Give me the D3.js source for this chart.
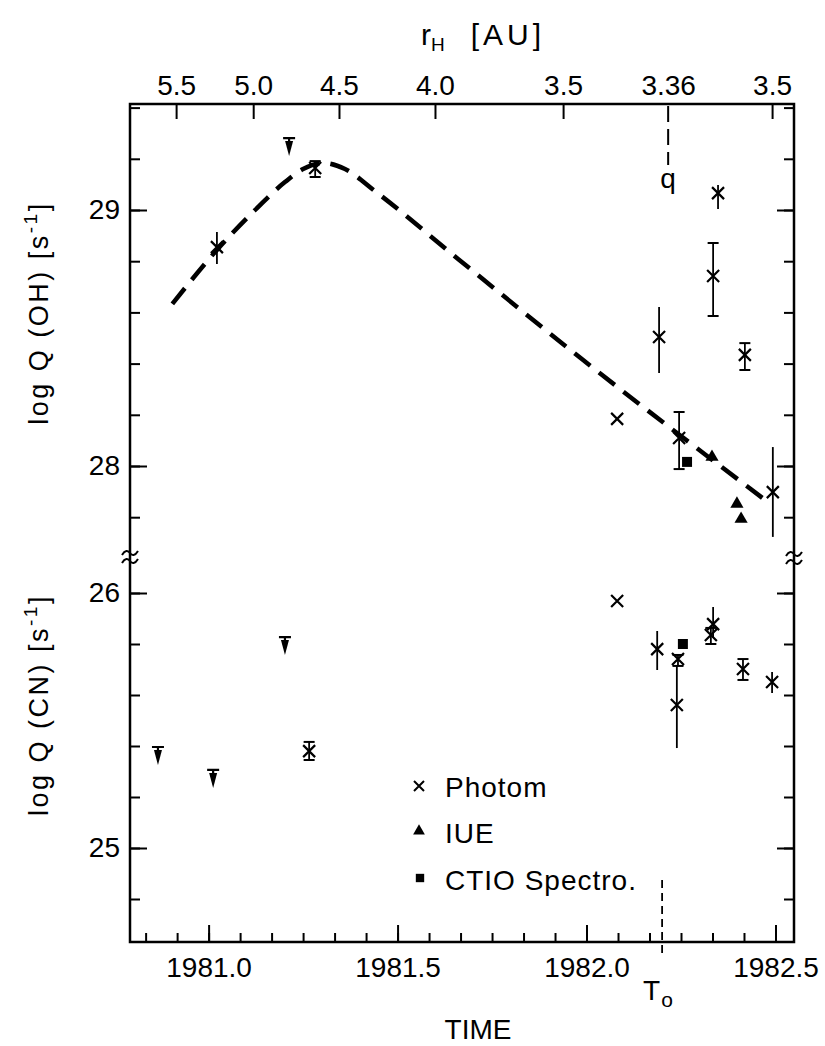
<!DOCTYPE html>
<html>
<head>
<meta charset="utf-8">
<script src="https://cdn.jsdelivr.net/npm/d3@7"></script>
<style>
  body { margin: 0; background: #fff; }
  text { font-family: "Liberation Sans", Arial, sans-serif; fill: #000; }
  .axis path.domain { display: none; }
  .axis line { stroke: #000; stroke-width: 2; }
</style>
</head>
<body>
<script>

// ---- dados ----
// eixo inferior (tempo, anos)
var yearMajor = [1981.0, 1981.5, 1982.0, 1982.5];
// eixo superior: distancia heliocentrica r_H (posicao em tempo + rotulo)
var rhTimes  = [1980.914, 1981.118, 1981.345, 1981.599, 1981.938, 1982.216, 1982.491];
var rhLabels = ["5.5", "5.0", "4.5", "4.0", "3.5", "3.36", "3.5"];
var ohTicks = [27.8, 28.0, 28.2, 28.4, 28.6, 28.8, 29.0, 29.2, 29.4];
var ohMajor = [28, 29];
var cnTicks = [24.8, 25.0, 25.2, 25.4, 25.6, 25.8, 26.0];
var cnMajor = [25, 26];

var perihelionTime = 1982.216;   // q
var t0Time = 1982.2;             // T0

// log Q (OH) - fotometria (t, v, barra inferior/superior, tipo de barra)
var ohPhotom = [
  {t: 1981.022, v: 28.855, lo: 28.789, hi: 28.914, bar: "plain"},
  {t: 1981.282, v: 29.164, lo: 29.129, hi: 29.191, bar: "cap"},
  {t: 1982.348, v: 29.066, lo: 29.004, hi: 29.098, bar: "plain"},
  {t: 1982.335, v: 28.742, lo: 28.586, hi: 28.871, bar: "cap"},
  {t: 1982.192, v: 28.504, lo: 28.363, hi: 28.621, bar: "plain"},
  {t: 1982.419, v: 28.434, lo: 28.375, hi: 28.480, bar: "cap"},
  {t: 1982.081, v: 28.184, lo: null,   hi: null,   bar: "none"},
  {t: 1982.245, v: 28.109, lo: 27.988, hi: 28.211, bar: "cap"},
  {t: 1982.493, v: 27.898, lo: 27.723, hi: 28.074, bar: "plain"}
];
var ohLimits = [{t: 1981.213, v: 29.281}];
var ohIUE = [
  {t: 1982.332, v: 28.035},
  {t: 1982.398, v: 27.852},
  {t: 1982.409, v: 27.793}
];
var ohCTIO = [{t: 1982.266, v: 28.016}];
// curva do modelo (tracejada)
var ohModelT = [1980.904, 1981.022, 1981.123, 1981.202, 1981.250, 1981.303, 1981.361, 1981.440, 1981.660, 1981.991, 1982.480];
var ohModelV = [28.633, 28.844, 29.000, 29.109, 29.160, 29.184, 29.160, 29.074, 28.809, 28.414, 27.859];

// log Q (CN)
var cnLimits = [
  {t: 1980.866, v: 25.396},
  {t: 1981.012, v: 25.306},
  {t: 1981.202, v: 25.827}
];
var cnPhotom = [
  {t: 1981.266, v: 25.380, lo: 25.345, hi: 25.416, bar: "cap"},
  {t: 1982.081, v: 25.969, lo: null,   hi: null,   bar: "none"},
  {t: 1982.187, v: 25.780, lo: 25.698, hi: 25.851, bar: "plain"},
  {t: 1982.242, v: 25.741, lo: 25.714, hi: 25.757, bar: "cap"},
  {t: 1982.239, v: 25.561, lo: 25.392, hi: 25.714, bar: "plain"},
  {t: 1982.335, v: 25.878, lo: 25.824, hi: 25.945, bar: "plain"},
  {t: 1982.329, v: 25.835, lo: 25.800, hi: 25.863, bar: "cap"},
  {t: 1982.414, v: 25.702, lo: 25.659, hi: 25.741, bar: "cap"},
  {t: 1982.491, v: 25.651, lo: 25.608, hi: 25.690, bar: "plain"}
];
var cnCTIO = [{t: 1982.255, v: 25.800}];

var legendNames = ["Photom", "IUE", "CTIO Spectro."];

// ---- geometria ----
var W = 825, H = 1046;
var plotLeft = 130, plotRight = 794, plotTop = 104, breakY = 557, plotBottom = 942;

var x = d3.scaleLinear().domain([1980.792, 1982.549]).range([plotLeft, plotRight]);
var yOH = d3.scaleLinear().domain([28, 29]).range([466, 210]);
var yCN = d3.scaleLinear().domain([25, 26]).range([848, 593]);

var svg = d3.select("body").append("svg")
    .attr("width", W)
    .attr("height", H)
    .style("background", "#fff");

// moldura
svg.append("path")
    .attr("d", "M" + plotLeft + "," + plotTop + "H" + plotRight + "V" + plotBottom + "H" + plotLeft + "Z")
    .attr("fill", "none")
    .attr("stroke", "#000")
    .attr("stroke-width", 2.5);

// eixos verticais (esquerda com rotulos, direita so marcas)
function yAxes(scale, ticks, major) {
  svg.append("g").attr("class", "axis")
      .attr("transform", "translate(" + plotLeft + ",0)")
      .call(d3.axisRight(scale).tickValues(ticks).tickSize(10).tickFormat(""));
  var g = svg.append("g").attr("class", "axis")
      .attr("transform", "translate(" + plotLeft + ",0)")
      .call(d3.axisLeft(scale).tickValues(major).tickSizeInner(-17).tickSizeOuter(0)
              .tickPadding(10).tickFormat(d3.format("d")));
  g.selectAll("text").style("font-size", "28px");
  svg.append("g").attr("class", "axis")
      .attr("transform", "translate(" + plotRight + ",0)")
      .call(d3.axisLeft(scale).tickValues(ticks).tickSize(10).tickFormat(""));
  svg.append("g").attr("class", "axis")
      .attr("transform", "translate(" + plotRight + ",0)")
      .call(d3.axisLeft(scale).tickValues(major).tickSize(17).tickFormat(""));
}
yAxes(yOH, ohTicks, ohMajor);
yAxes(yCN, cnTicks, cnMajor);

// eixo do tempo (marcas mensais)
var months = d3.range(-2, 19).map(function(m) { return 1981 + m / 12; });
svg.append("g").attr("class", "axis")
    .attr("transform", "translate(0," + plotBottom + ")")
    .call(d3.axisTop(x).tickValues(months).tickSize(9).tickFormat(""));
svg.append("g").attr("class", "axis")
    .attr("transform", "translate(0," + plotBottom + ")")
    .call(d3.axisTop(x).tickValues(yearMajor).tickSize(17).tickFormat(""));
var bl = svg.append("g").attr("class", "axis")
    .attr("transform", "translate(0," + plotBottom + ")")
    .call(d3.axisBottom(x).tickValues(yearMajor).tickSize(0).tickPadding(15)
            .tickFormat(d3.format(".1f")));
bl.selectAll("text").style("font-size", "28px");

// eixo superior r_H
svg.append("g").attr("class", "axis")
    .attr("transform", "translate(0," + plotTop + ")")
    .call(d3.axisBottom(x).tickValues(rhTimes.filter(function(t) { return t !== perihelionTime; }))
            .tickSize(15).tickFormat(""));
var tl = svg.append("g").attr("class", "axis")
    .attr("transform", "translate(0," + plotTop + ")")
    .call(d3.axisTop(x).tickValues(rhTimes).tickSize(0).tickPadding(9)
            .tickFormat(function(d, i) { return rhLabels[i]; }));
tl.selectAll("text").style("font-size", "28px");

// titulo superior
var rt = svg.append("text").attr("x", 421).attr("y", 45).style("font-size", "30px");
rt.append("tspan").text("r");
rt.append("tspan").attr("dy", 6).style("font-size", "19px").text("H");
rt.append("tspan").attr("dy", -6).attr("dx", 26).style("letter-spacing", "4px").text("[AU]");

// titulo inferior
svg.append("text")
    .attr("x", 478).attr("y", 1039)
    .attr("text-anchor", "middle")
    .style("font-size", "28px")
    .text("TIME");

// titulos verticais
function yTitle(cy, mol) {
  var t = svg.append("text")
      .attr("transform", "translate(48," + cy + ") rotate(-90)")
      .attr("text-anchor", "middle")
      .style("font-size", "27px")
      .style("letter-spacing", "2.5px");
  t.append("tspan").text("log Q (" + mol + ") [s");
  t.append("tspan").attr("dy", -11).style("font-size", "19px").text("-1");
  t.append("tspan").attr("dy", 11).text("]");
}
yTitle(313, "OH");
yTitle(705, "CN");

// marcas de quebra do eixo
function breakMark(cx, cy) {
  svg.append("path")
      .attr("d", "M" + (cx - 8) + "," + (cy + 2) + "c3,-5 6,-5 8,-2 s5,3 8,-2")
      .attr("fill", "none").attr("stroke", "#000").attr("stroke-width", 2);
}
breakMark(plotLeft, breakY - 4);
breakMark(plotLeft, breakY + 4);
breakMark(plotRight, breakY - 3);
breakMark(plotRight, breakY + 5);

// linha tracejada q (perielio) e T0
svg.append("line")
    .attr("x1", x(perihelionTime)).attr("x2", x(perihelionTime))
    .attr("y1", plotTop + 2).attr("y2", 165)
    .attr("stroke", "#000").attr("stroke-width", 2)
    .attr("stroke-dasharray", "16,7");
svg.append("text")
    .attr("x", x(perihelionTime)).attr("y", 188)
    .attr("text-anchor", "middle")
    .style("font-size", "28px")
    .text("q");

svg.append("line")
    .attr("x1", x(t0Time)).attr("x2", x(t0Time))
    .attr("y1", 880).attr("y2", 956)
    .attr("stroke", "#000").attr("stroke-width", 1.8)
    .attr("stroke-dasharray", "8,5");
var t0 = svg.append("text").attr("x", x(t0Time) - 19).attr("y", 1000).style("font-size", "28px");
t0.append("tspan").text("T");
t0.append("tspan").attr("dy", 7).attr("dx", 1).style("font-size", "21px").text("o");

// curva do modelo
var model = ohModelT.map(function(t, i) { return {t: t, v: ohModelV[i]}; });
svg.append("path")
    .datum(model)
    .attr("fill", "none")
    .attr("stroke", "#000")
    .attr("stroke-width", 4.5)
    .attr("stroke-dasharray", "20,11")
    .attr("d", d3.line()
        .curve(d3.curveMonotoneX)
        .x(function(d) { return x(d.t); })
        .y(function(d) { return yOH(d.v); }));

// simbolos
var crossPath = "M-6,-6L6,6M-6,6L6,-6";

function drawPhotom(data, y) {
  var g = svg.append("g");
  data.forEach(function(d) {
    var cx = x(d.t), cy = y(d.v);
    if (d.bar !== "none") {
      g.append("line")
          .attr("x1", cx).attr("x2", cx)
          .attr("y1", y(d.hi)).attr("y2", y(d.lo))
          .attr("stroke", "#000").attr("stroke-width", 1.8);
      if (d.bar === "cap") {
        [d.hi, d.lo].forEach(function(e) {
          g.append("line")
              .attr("x1", cx - 5.5).attr("x2", cx + 5.5)
              .attr("y1", y(e)).attr("y2", y(e))
              .attr("stroke", "#000").attr("stroke-width", 2);
        });
      }
    }
    g.append("path")
        .attr("transform", "translate(" + cx + "," + cy + ")")
        .attr("d", crossPath)
        .attr("fill", "none").attr("stroke", "#000").attr("stroke-width", 2.2);
  });
}

function drawLimits(data, y) {
  data.forEach(function(d) {
    var g = svg.append("g").attr("transform", "translate(" + x(d.t) + "," + y(d.v) + ")");
    g.append("path").attr("d", "M-6,0H6M0,0V5")
        .attr("stroke", "#000").attr("stroke-width", 2.2).attr("fill", "none");
    g.append("path").attr("d", "M-4,3L4,3L0,18Z").attr("fill", "#000");
  });
}

var tri = d3.symbol().type(d3.symbolTriangle).size(75);
var sq = d3.symbol().type(d3.symbolSquare).size(100);

function drawSymbols(data, y, sym) {
  svg.append("g").selectAll("path")
      .data(data)
      .enter().append("path")
      .attr("transform", function(d) { return "translate(" + x(d.t) + "," + y(d.v) + ")"; })
      .attr("d", sym)
      .attr("fill", "#000");
}

drawPhotom(ohPhotom, yOH);
drawLimits(ohLimits, yOH);
drawSymbols(ohIUE, yOH, tri);
drawSymbols(ohCTIO, yOH, sq);

drawPhotom(cnPhotom, yCN);
drawLimits(cnLimits, yCN);
drawSymbols(cnCTIO, yCN, sq);

// legenda
var legY = [797, 843, 890];
var lg = svg.append("g");
lg.append("path").attr("transform", "translate(419,786)")
    .attr("d", "M-5,-5L5,5M-5,5L5,-5")
    .attr("fill", "none").attr("stroke", "#000").attr("stroke-width", 2);
lg.append("path").attr("transform", "translate(419,831)")
    .attr("d", d3.symbol().type(d3.symbolTriangle).size(60)).attr("fill", "#000");
lg.append("path").attr("transform", "translate(420,878)")
    .attr("d", d3.symbol().type(d3.symbolSquare).size(70)).attr("fill", "#000");
lg.selectAll("text")
    .data(legendNames)
    .enter().append("text")
    .attr("x", 445)
    .attr("y", function(d, i) { return legY[i]; })
    .style("font-size", "28px")
    .style("letter-spacing", "1px")
    .text(function(d) { return d; });

</script>
</body>
</html>
